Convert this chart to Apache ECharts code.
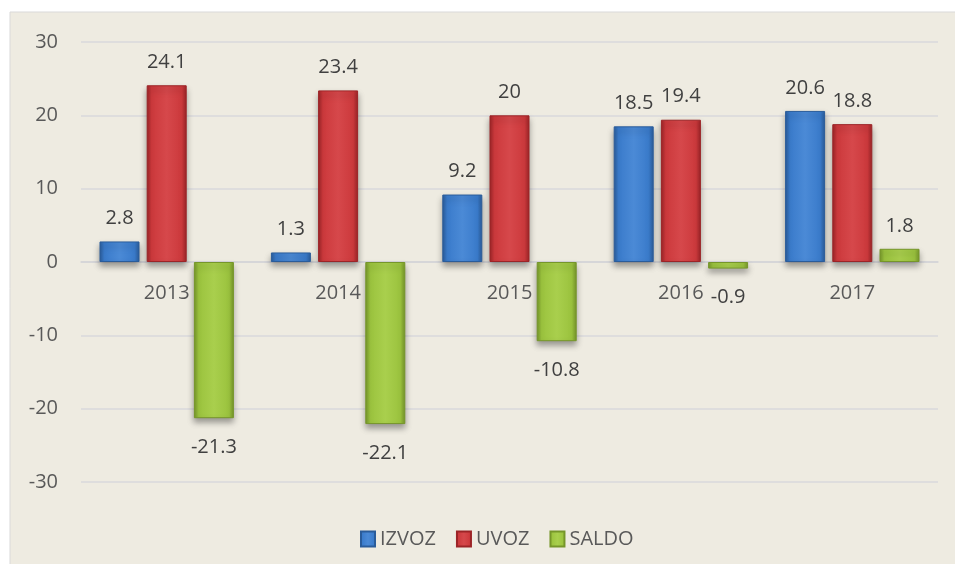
<!DOCTYPE html>
<html>
<head>
<meta charset="utf-8">
<script src="https://cdn.jsdelivr.net/npm/echarts@6/dist/echarts.min.js"></script>
<style>
  html, body { margin: 0; padding: 0; background: #fff; }
  #chart { width: 955px; height: 564px; }
</style>
</head>
<body>
<div id="chart"></div>
<script>
const years = ['2013', '2014', '2015', '2016', '2017']
const izvoz = [2.8, 1.3, 9.2, 18.5, 20.6]
const uvoz = [24.1, 23.4, 20, 19.4, 18.8]
const saldo = [-21.3, -22.1, -10.8, -0.9, 1.8]
const yTicks = { min: -30, max: 30, interval: 10 }

const font = "'Open Sans', 'Liberation Sans', sans-serif"

// bevel-like look: darker edges, lighter middle
function barColor(edge, main, mid) {
  return new echarts.graphic.LinearGradient(0, 0, 1, 0, [
    { offset: 0, color: edge },
    { offset: 0.12, color: main },
    { offset: 0.5, color: mid },
    { offset: 0.88, color: main },
    { offset: 1, color: edge }
  ])
}

function toItems(values) {
  return values.map(v => ({
    value: v,
    label: v >= 0 ? { position: 'top', distance: 13 } : { position: 'bottom', distance: 19 }
  }))
}

function makeSeries(name, values, colors) {
  return {
    name: name,
    type: 'bar',
    barWidth: 40,
    barGap: '18%',
    data: toItems(values),
    itemStyle: {
      color: barColor(colors[0], colors[1], colors[2]),
      borderColor: colors[0],
      borderWidth: 1,
      shadowColor: 'rgba(0,0,0,0.35)',
      shadowBlur: 6,
      shadowOffsetY: 4
    },
    label: {
      show: true,
      color: '#404040',
      fontSize: 20,
      fontFamily: font
    }
  }
}

const chart = echarts.init(document.getElementById('chart'))
chart.setOption({
  animation: false,
  graphic: [{
    type: 'rect',
    z: -10,
    // chart area runs past the right and bottom edges of the picture
    shape: { x: 10, y: 12, width: 960, height: 570 },
    style: { fill: '#EEEBE1', stroke: '#D9D9D9', lineWidth: 1 }
  }],
  grid: { left: 81, right: 17, top: 42, bottom: 82 },
  legend: {
    left: 355,
    top: 524,
    itemWidth: 14,
    itemHeight: 15,
    itemGap: 20,
    icon: 'rect',
    textStyle: { color: '#595959', fontSize: 20, fontFamily: font }
  },
  xAxis: {
    type: 'category',
    data: years,
    position: 'bottom',
    // move the axis (line + labels) up to the zero line
    offset: -220,
    axisLine: { onZero: false, lineStyle: { color: '#D4D4D6', width: 1.5 } },
    axisTick: { show: false },
    axisLabel: { color: '#595959', fontSize: 20, fontFamily: font, margin: 21 }
  },
  yAxis: {
    type: 'value',
    min: yTicks.min,
    max: yTicks.max,
    interval: yTicks.interval,
    axisLine: { show: false },
    axisTick: { show: false },
    splitLine: { lineStyle: { color: '#D9D9DB', width: 1.5 } },
    axisLabel: { color: '#595959', fontSize: 20, fontFamily: font, margin: 23 }
  },
  series: [
    makeSeries('IZVOZ', izvoz, ['#2A5C9A', '#3A7BCB', '#4B8AD6']),
    makeSeries('UVOZ', uvoz, ['#9C2427', '#CC393C', '#D6484B']),
    makeSeries('SALDO', saldo, ['#76962A', '#9BC33E', '#A9CF4D'])
  ]
})
window.addEventListener('resize', () => { chart.resize() })
</script>
</body>
</html>
